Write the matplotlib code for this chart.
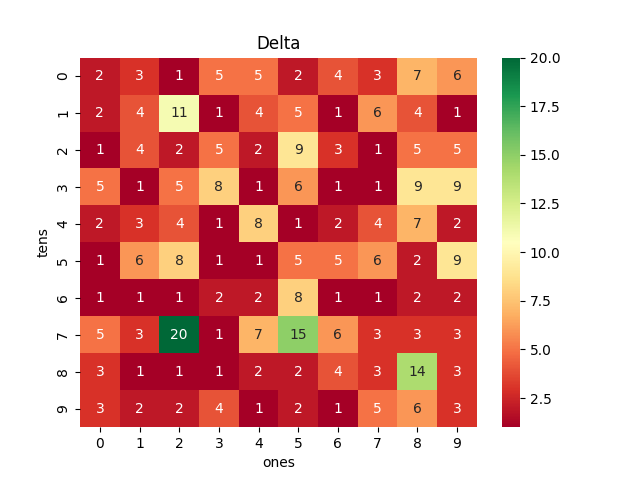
import matplotlib
matplotlib.use("Agg")
import matplotlib.pyplot as plt
import seaborn as sns
import numpy as np

tens = list(range(10))
ones = list(range(10))
counts = [
    [2, 3, 1, 5, 5, 2, 4, 3, 7, 6],
    [2, 4, 11, 1, 4, 5, 1, 6, 4, 1],
    [1, 4, 2, 5, 2, 9, 3, 1, 5, 5],
    [5, 1, 5, 8, 1, 6, 1, 1, 9, 9],
    [2, 3, 4, 1, 8, 1, 2, 4, 7, 2],
    [1, 6, 8, 1, 1, 5, 5, 6, 2, 9],
    [1, 1, 1, 2, 2, 8, 1, 1, 2, 2],
    [5, 3, 20, 1, 7, 15, 6, 3, 3, 3],
    [3, 1, 1, 1, 2, 2, 4, 3, 14, 3],
    [3, 2, 2, 4, 1, 2, 1, 5, 6, 3],
]

fig, ax = plt.subplots(figsize=(6.4, 4.8), dpi=100)
sns.heatmap(np.array(counts), annot=True, fmt="d", cmap="RdYlGn",
            xticklabels=ones, yticklabels=tens, ax=ax)
ax.set_title("Delta")
ax.set_xlabel("ones")
ax.set_ylabel("tens")
fig.savefig("out.png", dpi=100)
